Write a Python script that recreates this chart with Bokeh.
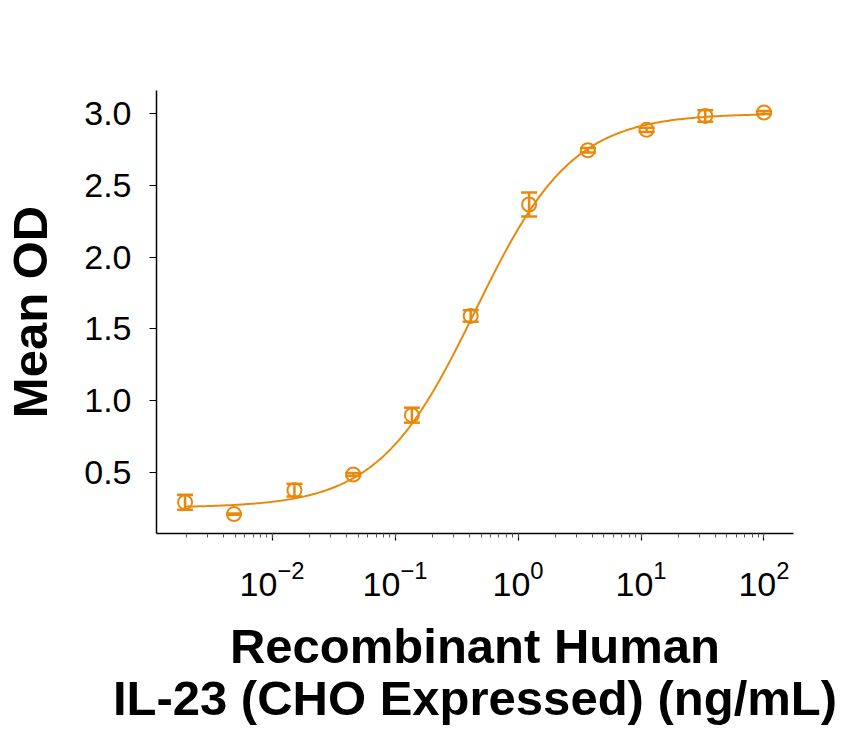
import numpy as np
from bokeh.plotting import figure
from bokeh.models import ColumnDataSource, Whisker, FixedTicker, PrintfTickFormatter, Range1d, LogTickFormatter
from bokeh.embed import file_html
from bokeh.resources import INLINE

# --- data ---
conc = [0.00196, 0.0049, 0.0152, 0.0457, 0.137, 0.412, 1.23, 3.70, 11.1, 33.3, 100.0]
mean_od = [0.293, 0.210, 0.377, 0.486, 0.899, 1.590, 2.366, 2.744, 2.886, 2.983, 3.007]
err = [0.052, 0.004, 0.044, 0.010, 0.052, 0.040, 0.084, 0.015, 0.015, 0.040, 0.010]

# 4-parameter logistic fit
fit_bottom = 0.255
fit_top = 3.00
fit_ec50 = 0.45
fit_hill = 1.10

y_ticks = [0.5, 1.0, 1.5, 2.0, 2.5, 3.0]

ORANGE = "#E8890C"

lower = [m - e for m, e in zip(mean_od, err)]
upper = [m + e for m, e in zip(mean_od, err)]
src = ColumnDataSource(dict(x=conc, y=mean_od, lower=lower, upper=upper))

xf = np.logspace(np.log10(conc[0]), np.log10(conc[-1]), 300)
yf = fit_top + (fit_bottom - fit_top) / (1 + (xf / fit_ec50) ** fit_hill)

p = figure(width=845, height=738, x_axis_type="log",
           x_range=Range1d(10 ** -2.94, 10 ** 2.24), y_range=Range1d(0.075, 3.16),
           output_backend="svg", toolbar_location=None,
           min_border_left=156, min_border_right=52, min_border_top=90, min_border_bottom=205)

p.line(xf, yf, line_color=ORANGE, line_width=2)
w = Whisker(source=src, base="x", lower="lower", upper="upper",
            line_color=ORANGE, line_width=2.5)
w.upper_head.line_color = ORANGE
w.lower_head.line_color = ORANGE
w.upper_head.line_width = 2.5
w.lower_head.line_width = 2.5
w.upper_head.size = 16
w.lower_head.size = 16
p.add_layout(w)
p.scatter("x", "y", source=src, size=14, marker="circle",
          line_color=ORANGE, line_width=2, fill_color=None)

p.outline_line_color = None
p.grid.visible = False
p.background_fill_color = "white"
p.border_fill_color = "white"

FONT = "Liberation Sans"
for ax in (p.xaxis[0], p.yaxis[0]):
    ax.axis_line_color = "black"
    ax.axis_line_width = 1.5
    ax.major_tick_line_color = "black"
    ax.major_tick_line_width = 1.2
    ax.major_tick_in = 0
    ax.major_tick_out = 7
    ax.minor_tick_in = 0
    ax.minor_tick_out = 4
    ax.minor_tick_line_color = "#555555"
    ax.major_label_text_font = FONT
    ax.major_label_text_font_size = "34px"
    ax.major_label_text_color = "black"
    ax.axis_label_text_font = FONT
    ax.axis_label_text_font_style = "bold"
    ax.axis_label_text_font_size = "49px"
    ax.axis_label_text_color = "black"

p.yaxis.ticker = FixedTicker(ticks=y_ticks)
p.yaxis.formatter = PrintfTickFormatter(format="%.1f")
p.yaxis.minor_tick_line_color = None
p.yaxis.major_label_standoff = 18
p.yaxis.axis_label = "Mean OD"
p.yaxis.axis_label_standoff = 24

p.xaxis.formatter = LogTickFormatter()
p.xaxis.major_label_standoff = 20
p.xaxis.axis_label = "Recombinant Human\nIL-23 (CHO Expressed) (ng/mL)"
p.xaxis.axis_label_standoff = 20
p.xaxis.axis_label_text_line_height = 0.98

open("out.html", "w").write(file_html(p, INLINE))
